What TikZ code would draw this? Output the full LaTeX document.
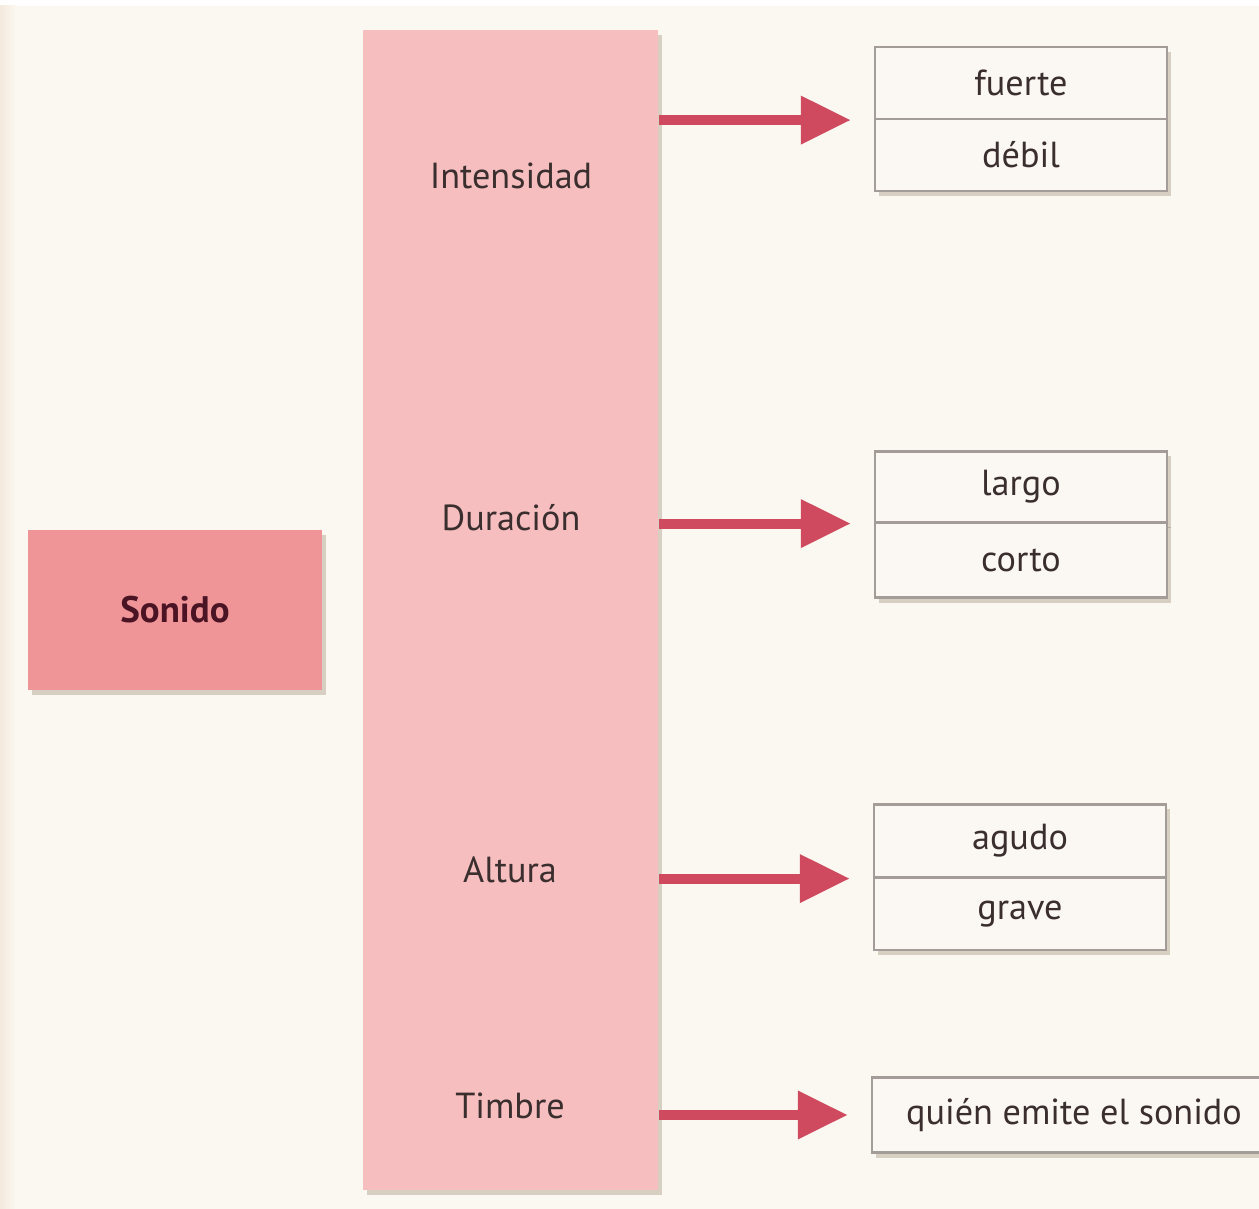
\documentclass[tikz,border=0pt]{standalone}
\usepackage{fontspec}
\setmainfont{PT Sans}
\usetikzlibrary{arrows.meta,shadows}
\definecolor{bgc}{HTML}{FAF8F1}
\definecolor{colpink}{HTML}{F6BEBF}
\definecolor{sonpink}{HTML}{EF9597}
\definecolor{arrred}{HTML}{CF4A5F}
\definecolor{txtc}{HTML}{3A2E2E}
\definecolor{sontxt}{HTML}{4A1424}
\definecolor{boxfill}{HTML}{FBF8F3}
\definecolor{boxline}{HTML}{A39C98}
\tikzset{
  x=0.01cm, y=-0.01cm,
  lbl/.style={font=\fontsize{10.3}{12}\selectfont, text=txtc, inner sep=0pt},
  soft/.style={drop shadow={shadow xshift=0.04cm, shadow yshift=-0.05cm, opacity=0.22, fill=brown!50!black}},
  halfbox/.style={soft, draw=boxline, line width=0.6pt, fill=boxfill, minimum width=2.92cm, inner sep=0pt, font=\fontsize{10.3}{12}\selectfont, text=txtc},
  arr/.style={draw=arrred, line width=0.1cm, -{Triangle[width=0.46cm,length=0.5cm]}, shorten >=0.23cm},
}
\begin{document}
\begin{tikzpicture}
\useasboundingbox (0,0) rectangle (1259,1209);
\fill[bgc] (0,0) rectangle (1259,1209);
\fill[white] (0,0) rectangle (1259,6);
\shade[left color=bgc!60!brown!40, right color=bgc] (0,6) rectangle (16,1209);

% main nodes
\node[soft, fill=sonpink, minimum width=2.94cm, minimum height=1.6cm, inner sep=0pt,
  font=\fontsize{10.5}{12}\selectfont\bfseries, text=sontxt] (sonido) at (175,610) {Sonido};
\node[soft, fill=colpink, minimum width=2.95cm, minimum height=11.6cm, inner sep=0pt] (col) at (510.5,610) {};

\node[lbl] (intens) at (511,176) {Intensidad};
\node[lbl] (durac) at (511,518) {Duración};
\node[lbl] (altura) at (510,870) {Altura};
\node[lbl] (timbre) at (510,1106) {Timbre};

% right boxes
\node[halfbox, minimum height=0.72cm] (fuerte) at (1021,83) {fuerte};
\node[halfbox, minimum height=0.72cm] (debil) at (1021,155) {débil};
\node[halfbox, minimum height=0.71cm] (largo) at (1021,487) {largo};
\node[halfbox, minimum height=0.75cm] (corto) at (1021,560) {corto};
\node[halfbox, minimum height=0.73cm] (agudo) at (1020,841) {agudo};
\node[halfbox, minimum height=0.72cm] (grave) at (1020,914) {grave};
\node[halfbox, minimum width=4.04cm, minimum height=0.75cm] (quien) at (1074,1115) {quién emite el sonido};

% arrows
\draw[arr] (col.east |- fuerte.south) -- (fuerte.south west);
\draw[arr] (col.east |- largo.south) -- (largo.south west);
\draw[arr] (col.east |- agudo.south) -- (agudo.south west);
\draw[arr] (col.east |- quien.west) -- (quien.west);
\end{tikzpicture}
\end{document}
